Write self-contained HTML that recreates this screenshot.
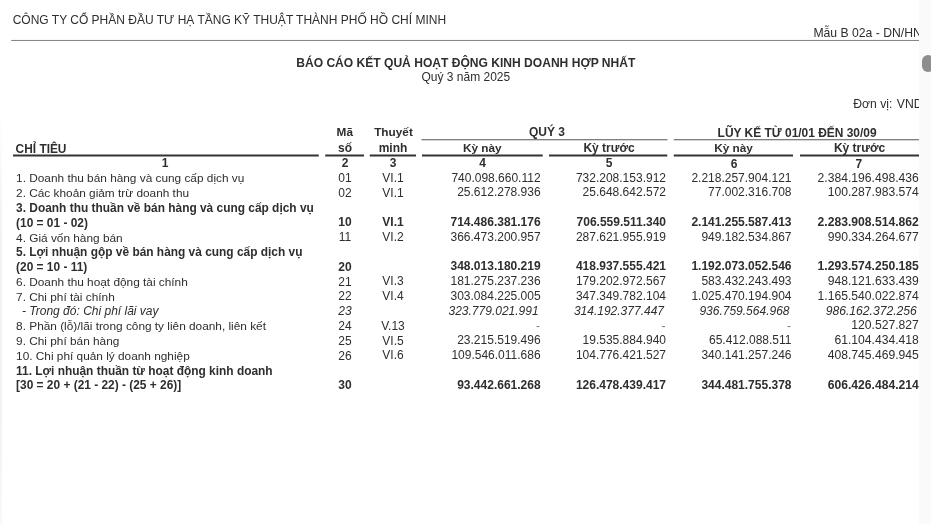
<!DOCTYPE html>
<html lang="vi">
<head>
<meta charset="utf-8">
<title>Báo cáo kết quả hoạt động kinh doanh hợp nhất</title>
<style>
html,body{margin:0;padding:0;background:#fff;}
body{width:931px;height:524px;position:relative;overflow:hidden;font-family:"Liberation Sans",sans-serif;font-size:12px;color:#2e2e2e;}
#doc{position:absolute;left:0;top:0;width:919px;height:524px;overflow:hidden;background:#fff;}
.t{position:absolute;white-space:nowrap;line-height:14px;height:14px;}
.b{font-weight:bold;}
.i{font-style:italic;}
.d{color:#7a7a7a;}
.c{transform:translateX(-50%);}
.r{transform:translateX(-100%);}
#sb{position:absolute;left:919px;top:0;width:12px;height:524px;background:#fafafa;}
#th{position:absolute;left:922px;top:54.7px;width:12px;height:17px;border-radius:6px;background:#8e8e8e;}
#edge{position:absolute;left:0;top:110px;width:3px;height:414px;background:linear-gradient(to right,rgba(0,0,0,.07),rgba(0,0,0,0));-webkit-mask-image:linear-gradient(to bottom,transparent,#000 30%,#000 75%,rgba(0,0,0,.5));mask-image:linear-gradient(to bottom,transparent,#000 30%,#000 75%,rgba(0,0,0,.5));}
</style>
</head>
<body>
<div id="doc">
<div id="edge"></div>
<svg id="rules" width="919" height="524" viewBox="0 0 919 524" style="position:absolute;left:0;top:0">
<line x1="11.2" y1="40.45" x2="919" y2="40.45" stroke="#808080" stroke-width="1"/>
<line x1="421.5" y1="139.75" x2="667.5" y2="139.75" stroke="#555" stroke-width="1"/>
<line x1="673.8" y1="139.75" x2="919" y2="139.75" stroke="#555" stroke-width="1"/>
<line x1="13" y1="155.5" x2="318.8" y2="155.5" stroke="#333" stroke-width="2"/>
<line x1="325.2" y1="155.5" x2="364" y2="155.5" stroke="#333" stroke-width="2"/>
<line x1="369.8" y1="155.5" x2="416" y2="155.5" stroke="#333" stroke-width="2"/>
<line x1="422" y1="155.5" x2="542.7" y2="155.5" stroke="#333" stroke-width="2"/>
<line x1="549" y1="155.5" x2="667.3" y2="155.5" stroke="#333" stroke-width="2"/>
<line x1="673.8" y1="155.5" x2="793" y2="155.5" stroke="#333" stroke-width="2"/>
<line x1="800" y1="155.5" x2="919" y2="155.5" stroke="#333" stroke-width="2"/>
</svg>
<div class="t" style="left:12.7px;top:12.84px">CÔNG TY CỔ PHẦN ĐẦU TƯ HẠ TẦNG KỸ THUẬT THÀNH PHỐ HỒ CHÍ MINH</div>
<div class="t" style="left:813.4px;top:26.07px;font-size:12.2px">Mẫu B 02a - DN/HN</div>
<div class="t b c" style="left:465.8px;top:56.32px;font-size:12.07px">BÁO CÁO KẾT QUẢ HOẠT ĐỘNG KINH DOANH HỢP NHẤT</div>
<div class="t c" style="left:465.8px;top:69.84px">Quý 3 năm 2025</div>
<div class="t" style="left:853.3px;top:96.77px;font-size:12.2px">Đơn vị:</div>
<div class="t" style="left:896.8px;top:96.77px;font-size:12.2px">VND</div>
<div class="t b c" style="left:344.8px;top:125.11px;font-size:11.8px">Mã</div>
<div class="t b c" style="left:393.5px;top:125.11px;font-size:11.8px">Thuyết</div>
<div class="t b c" style="left:547px;top:125.14px">QUÝ 3</div>
<div class="t b c" style="left:797.1px;top:125.86px;font-size:11.95px">LŨY KẾ TỪ 01/01 ĐẾN 30/09</div>
<div class="t b" style="left:15.6px;top:141.98px;font-size:11.9px">CHỈ TIÊU</div>
<div class="t b c" style="left:345px;top:141.34px">số</div>
<div class="t b c" style="left:393px;top:141.34px">minh</div>
<div class="t b c" style="left:482.3px;top:141.01px;font-size:11.8px">Kỳ này</div>
<div class="t b c" style="left:609px;top:141.04px;font-size:12px">Kỳ trước</div>
<div class="t b c" style="left:733.5px;top:141.31px;font-size:11.8px">Kỳ này</div>
<div class="t b c" style="left:859.5px;top:141.44px;font-size:12px">Kỳ trước</div>
<div class="t b c" style="left:165px;top:156.24px">1</div>
<div class="t b c" style="left:345px;top:156.24px">2</div>
<div class="t b c" style="left:393px;top:156.24px">3</div>
<div class="t b c" style="left:482.7px;top:156.24px">4</div>
<div class="t b c" style="left:609px;top:156.44px">5</div>
<div class="t b c" style="left:734px;top:156.84px">6</div>
<div class="t b c" style="left:858.8px;top:157.04px">7</div>
<div class="t" style="left:16.1px;top:171.40px;font-size:11.84px">1. Doanh thu bán hàng và cung cấp dịch vụ</div>
<div class="t c" style="left:345px;top:171.04px">01</div>
<div class="t c" style="left:393px;top:170.84px">VI.1</div>
<div class="t r" style="left:540.6px;top:170.64px">740.098.660.112</div>
<div class="t r" style="left:666px;top:170.64px">732.208.153.912</div>
<div class="t r" style="left:791.5px;top:170.64px">2.218.257.904.121</div>
<div class="t r" style="left:918.8px;top:170.59px;font-size:12.15px">2.384.196.498.436</div>
<div class="t" style="left:16.1px;top:186.19px;font-size:11.84px">2. Các khoản giảm trừ doanh thu</div>
<div class="t c" style="left:345px;top:185.83px">02</div>
<div class="t c" style="left:393px;top:185.63px">VI.1</div>
<div class="t r" style="left:540.6px;top:185.43px">25.612.278.936</div>
<div class="t r" style="left:666px;top:185.43px">25.648.642.572</div>
<div class="t r" style="left:791.5px;top:185.43px">77.002.316.708</div>
<div class="t r" style="left:918.8px;top:185.38px;font-size:12.15px">100.287.983.574</div>
<div class="t b" style="left:16.1px;top:200.95px;font-size:11.92px">3. Doanh thu thuần về bán hàng và cung cấp dịch vụ</div>
<div class="t b" style="left:16.1px;top:215.74px;font-size:11.92px">(10 = 01 - 02)</div>
<div class="t b c" style="left:345px;top:215.41px">10</div>
<div class="t b c" style="left:393px;top:215.21px">VI.1</div>
<div class="t b r" style="left:540.6px;top:215.01px">714.486.381.176</div>
<div class="t b r" style="left:666px;top:215.01px">706.559.511.340</div>
<div class="t b r" style="left:791.5px;top:215.01px">2.141.255.587.413</div>
<div class="t b r" style="left:918.8px;top:214.96px;font-size:12.15px">2.283.908.514.862</div>
<div class="t" style="left:16.1px;top:230.56px;font-size:11.84px">4. Giá vốn hàng bán</div>
<div class="t c" style="left:345px;top:230.20px">11</div>
<div class="t c" style="left:393px;top:230.00px">VI.2</div>
<div class="t r" style="left:540.6px;top:229.80px">366.473.200.957</div>
<div class="t r" style="left:666px;top:229.80px">287.621.955.919</div>
<div class="t r" style="left:791.5px;top:229.80px">949.182.534.867</div>
<div class="t r" style="left:918.8px;top:229.75px;font-size:12.15px">990.334.264.677</div>
<div class="t b" style="left:16.1px;top:245.32px;font-size:11.92px">5. Lợi nhuận gộp về bán hàng và cung cấp dịch vụ</div>
<div class="t b" style="left:16.1px;top:260.11px;font-size:11.92px">(20 = 10 - 11)</div>
<div class="t b c" style="left:345px;top:259.78px">20</div>
<div class="t b r" style="left:540.6px;top:259.38px">348.013.180.219</div>
<div class="t b r" style="left:666px;top:259.38px">418.937.555.421</div>
<div class="t b r" style="left:791.5px;top:259.38px">1.192.073.052.546</div>
<div class="t b r" style="left:918.8px;top:259.33px;font-size:12.15px">1.293.574.250.185</div>
<div class="t" style="left:16.1px;top:274.93px;font-size:11.84px">6. Doanh thu hoạt động tài chính</div>
<div class="t c" style="left:345px;top:274.57px">21</div>
<div class="t c" style="left:393px;top:274.37px">VI.3</div>
<div class="t r" style="left:540.6px;top:274.17px">181.275.237.236</div>
<div class="t r" style="left:666px;top:274.17px">179.202.972.567</div>
<div class="t r" style="left:791.5px;top:274.17px">583.432.243.493</div>
<div class="t r" style="left:918.8px;top:274.12px;font-size:12.15px">948.121.633.439</div>
<div class="t" style="left:16.1px;top:289.72px;font-size:11.84px">7. Chi phí tài chính</div>
<div class="t c" style="left:345px;top:289.36px">22</div>
<div class="t c" style="left:393px;top:289.16px">VI.4</div>
<div class="t r" style="left:540.6px;top:288.96px">303.084.225.005</div>
<div class="t r" style="left:666px;top:288.96px">347.349.782.104</div>
<div class="t r" style="left:791.5px;top:288.96px">1.025.470.194.904</div>
<div class="t r" style="left:918.8px;top:288.91px;font-size:12.15px">1.165.540.022.874</div>
<div class="t i" style="left:22px;top:304.45px;font-size:12px">- Trong đó: Chi phí lãi vay</div>
<div class="t i c" style="left:345px;top:304.15px">23</div>
<div class="t i r" style="left:538.6px;top:303.75px">323.779.021.991</div>
<div class="t i r" style="left:664px;top:303.75px">314.192.377.447</div>
<div class="t i r" style="left:789.5px;top:303.75px">936.759.564.968</div>
<div class="t i r" style="left:916.8px;top:303.70px;font-size:12.15px">986.162.372.256</div>
<div class="t" style="left:16.1px;top:319.30px;font-size:11.84px">8. Phần (lỗ)/lãi trong công ty liên doanh, liên kết</div>
<div class="t c" style="left:345px;top:318.94px">24</div>
<div class="t c" style="left:393px;top:318.74px">V.13</div>
<div class="t d r" style="left:540px;top:318.54px">-</div>
<div class="t d r" style="left:665.4px;top:318.54px">-</div>
<div class="t d r" style="left:790.9px;top:318.54px">-</div>
<div class="t r" style="left:918.8px;top:318.49px;font-size:12.15px">120.527.827</div>
<div class="t" style="left:16.1px;top:334.09px;font-size:11.84px">9. Chi phí bán hàng</div>
<div class="t c" style="left:345px;top:333.73px">25</div>
<div class="t c" style="left:393px;top:333.53px">VI.5</div>
<div class="t r" style="left:540.6px;top:333.33px">23.215.519.496</div>
<div class="t r" style="left:666px;top:333.33px">19.535.884.940</div>
<div class="t r" style="left:791.5px;top:333.33px">65.412.088.511</div>
<div class="t r" style="left:918.8px;top:333.28px;font-size:12.15px">61.104.434.418</div>
<div class="t" style="left:16.1px;top:348.88px;font-size:11.84px">10. Chi phí quản lý doanh nghiệp</div>
<div class="t c" style="left:345px;top:348.52px">26</div>
<div class="t c" style="left:393px;top:348.32px">VI.6</div>
<div class="t r" style="left:540.6px;top:348.12px">109.546.011.686</div>
<div class="t r" style="left:666px;top:348.12px">104.776.421.527</div>
<div class="t r" style="left:791.5px;top:348.12px">340.141.257.246</div>
<div class="t r" style="left:918.8px;top:348.07px;font-size:12.15px">408.745.469.945</div>
<div class="t b" style="left:16.1px;top:363.64px;font-size:11.92px">11. Lợi nhuận thuần từ hoạt động kinh doanh</div>
<div class="t b" style="left:16.1px;top:378.43px;font-size:11.92px">[30 = 20 + (21 - 22) - (25 + 26)]</div>
<div class="t b c" style="left:345px;top:378.10px">30</div>
<div class="t b r" style="left:540.6px;top:377.70px">93.442.661.268</div>
<div class="t b r" style="left:666px;top:377.70px">126.478.439.417</div>
<div class="t b r" style="left:791.5px;top:377.70px">344.481.755.378</div>
<div class="t b r" style="left:918.8px;top:377.65px;font-size:12.15px">606.426.484.214</div>
</div>
<div id="sb"></div><div id="th"></div>
</body>
</html>
